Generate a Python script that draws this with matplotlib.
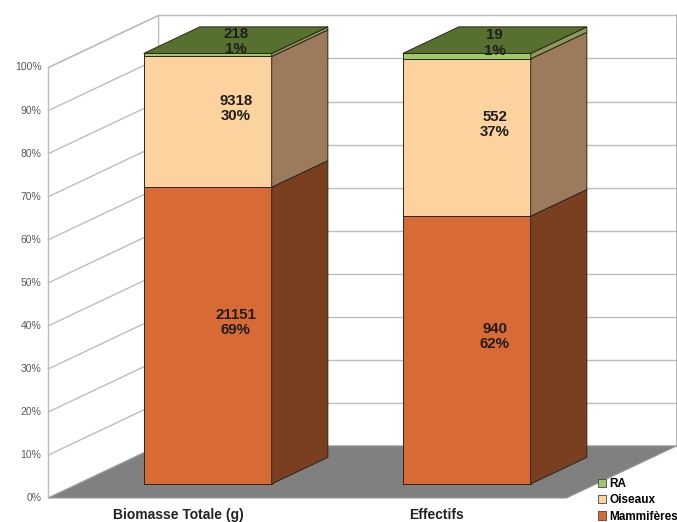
import matplotlib
matplotlib.use("Agg")
import matplotlib.pyplot as plt
from matplotlib.patches import Polygon, Patch

plt.rcParams['font.family'] = ['Liberation Sans', 'DejaVu Sans']

# donnees
categories = ["Biomasse Totale (g)", "Effectifs"]
groupes = ["Mammifères", "Oiseaux", "RA"]
mammiferes = [21151, 940]
oiseaux = [9318, 552]
ra = [218, 19]
valeurs = [mammiferes, oiseaux, ra]

face = {"Mammifères": "#d86a36", "Oiseaux": "#fcd39e", "RA": "#9ccb68"}
cote = {"Mammifères": "#7a3f20", "Oiseaux": "#9c7b5d", "RA": "#8c9a60"}
dessus = "#56712f"

# projection oblique : profondeur 0 (devant) -> 1 (fond)
DX = 0.425
DY = 12.1


def proj(x, p, d):
    return (x + d * DX, p + d * DY)


fig = plt.figure(figsize=(6.77, 5.22), dpi=100)
ax = fig.add_axes([0, 0, 1, 1])
ax.set_xlim(-178 / 259, 499 / 259)
ax.set_ylim(-24 / 4.305, 498 / 4.305)
ax.axis("off")

x_g, x_d = -0.5, 1.5
grille = "#bdbdbd"

# murs et grille
ax.add_patch(Polygon([proj(x_g, 0, 0), proj(x_g, 0, 1), proj(x_g, 100, 1), proj(x_g, 100, 0)],
                     closed=True, facecolor="white", edgecolor=grille, lw=1, zorder=1))
for p in range(0, 101, 10):
    xs, ys = zip(proj(x_g, p, 0), proj(x_g, p, 1))
    ax.plot(xs, ys, color=grille, lw=1, zorder=2)
    xs, ys = zip(proj(x_g, p, 1), proj(x_d, p, 1))
    ax.plot(xs, ys, color=grille, lw=1, zorder=2)
    ax.annotate(f"{p}%", xy=(x_g, p), xytext=(-5, 0), textcoords="offset points",
                ha="right", va="center", fontsize=7.5, color="#5a5a5a")
xs, ys = zip(proj(x_d, 0, 1), proj(x_d, 100, 1))
ax.plot(xs, ys, color="#a8a8a8", lw=1.2, zorder=2)

# sol
ax.add_patch(Polygon([proj(x_g, 0, 0), proj(x_d, 0, 0), proj(x_d, 0, 1), proj(x_g, 0, 1)],
                     closed=True, facecolor="#808080", edgecolor="#9a9a9a", lw=0.8, zorder=3))

# barres empilees en pourcentage
demi = 0.247
d0, d1 = 0.27, 0.78
dm = (d0 + d1) / 2
bord = "#2e2418"
for i, cat in enumerate(categories):
    total = sum(v[i] for v in valeurs)
    bas = 0.0
    for g, (nom, serie) in enumerate(zip(groupes, valeurs)):
        pct = serie[i] / total * 100
        haut = bas + pct
        x0, x1 = i - demi, i + demi
        ax.add_patch(Polygon([proj(x0, bas, d0), proj(x1, bas, d0), proj(x1, haut, d0), proj(x0, haut, d0)],
                             closed=True, facecolor=face[nom], edgecolor=bord, lw=0.7, zorder=5))
        ax.add_patch(Polygon([proj(x1, bas, d0), proj(x1, bas, d1), proj(x1, haut, d1), proj(x1, haut, d0)],
                             closed=True, facecolor=cote[nom], edgecolor=bord, lw=0.7, zorder=5))
        if g == len(groupes) - 1:
            ax.add_patch(Polygon([proj(x0, haut, d0), proj(x1, haut, d0), proj(x1, haut, d1), proj(x0, haut, d1)],
                                 closed=True, facecolor=dessus, edgecolor=bord, lw=0.7, zorder=5))
        cx, cy = proj(i, bas + pct / 2, dm)
        ax.text(cx, cy, f"{serie[i]}\n{round(pct)}%", ha="center", va="center",
                fontsize=10.8, fontweight="bold", color="#1e1e1e", linespacing=1.12, zorder=6)
        bas = haut
    ax.annotate(cat, xy=(i, 0), xytext=(0, -12.5), textcoords="offset points",
                ha="center", va="center", fontsize=10, fontweight="bold", color="#222222")

poignees = [Patch(facecolor=face[n], edgecolor="#444444", lw=0.6) for n in groupes[::-1]]
leg = ax.legend(poignees, groupes[::-1], loc="upper left", bbox_to_anchor=(598 / 677, 1 - 478 / 522),
                frameon=False, handlelength=0.7, handleheight=0.7, handletextpad=0.25,
                labelspacing=0.36, borderpad=0, borderaxespad=0,
                prop={"size": 8.5, "weight": "bold"})

fig.savefig("out.png", dpi=100)
